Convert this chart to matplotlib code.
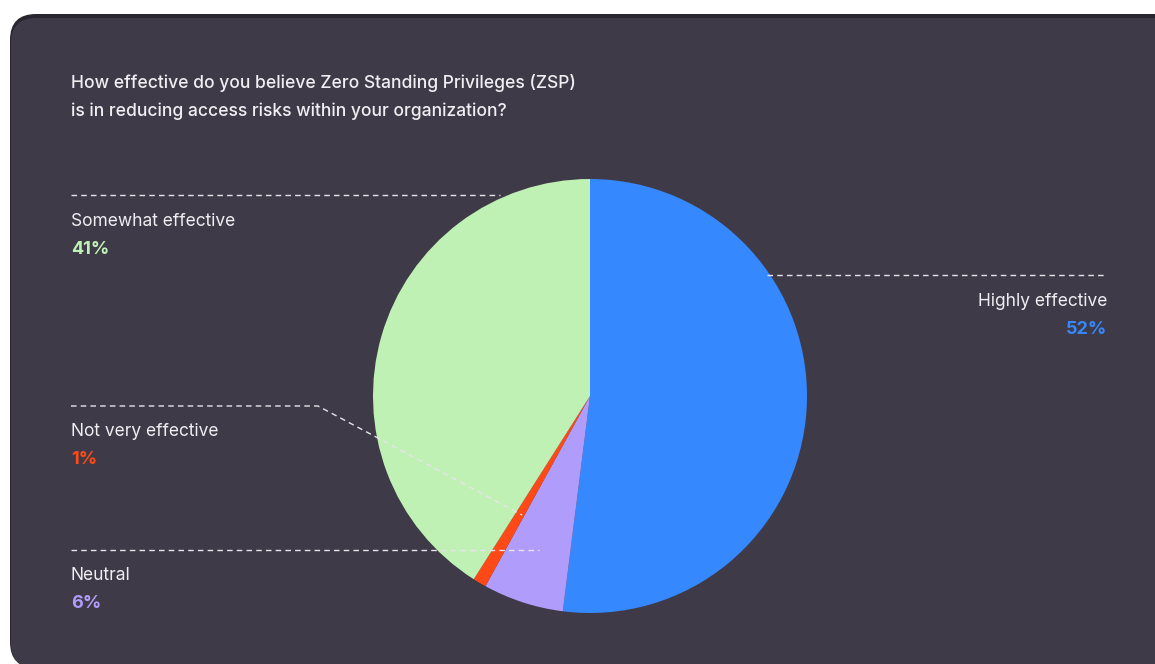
import matplotlib.pyplot as plt
from matplotlib.patches import FancyBboxPatch

# survey answers, clockwise from 12 o'clock
answers = ['Highly effective', 'Neutral', 'Not very effective', 'Somewhat effective']
shares = [52, 6, 1, 41]
colors = ['#3588fd', '#b09cfb', '#ff4a17', '#bff0b4']

title = ('How effective do you believe Zero Standing Privileges (ZSP)\n'
         'is in reducing access risks within your organization?')

W, H = 1155, 664
BG = '#3e3a48'
TXT = '#f0eef2'

plt.rcParams['font.family'] = ['Inter', 'DejaVu Sans']

fig = plt.figure(figsize=(W / 100, H / 100), dpi=100)
fig.patch.set_facecolor('white')
ax = fig.add_axes([0, 0, 1, 1])


def Y(y):
    # pixel row (from top) -> data y
    return H - y


# card with a darker rim along the top
ax.add_patch(FancyBboxPatch((10, Y(668)), 1200, 654, boxstyle='round,pad=0,rounding_size=26',
                            fc='#2a2630', ec='none', zorder=0))
ax.add_patch(FancyBboxPatch((11, Y(668)), 1200, 650, boxstyle='round,pad=0,rounding_size=25',
                            fc=BG, ec='none', zorder=0))

ax.text(71, Y(97), title, color=TXT, fontsize=12.6, fontweight='medium',
        va='center', ha='left', linespacing=1.72)

cx, cy, r = 590, 396, 217
ax.pie(shares, colors=colors, startangle=90, counterclock=False,
       center=(cx, Y(cy)), radius=r, wedgeprops=dict(linewidth=0), frame=True)
ax.set_xlim(0, W)
ax.set_ylim(0, H)
ax.set_aspect('equal')
ax.axis('off')

dash = dict(color='#e6e4ea', lw=1, ls=(0, (4, 3)), zorder=5)

# leader lines
ax.plot([71, 500], [Y(195), Y(195)], **dash)
ax.plot([767, 1107], [Y(275), Y(275)], **dash)
ax.plot([71, 318, 522], [Y(406), Y(406), Y(515)], **dash)
ax.plot([71, 539], [Y(550), Y(550)], **dash)

label_pos = {
    'Somewhat effective': (71, 222, 'left'),
    'Highly effective': (1107, 301, 'right'),
    'Not very effective': (71, 432, 'left'),
    'Neutral': (71, 576, 'left'),
}
for name, share, col in zip(answers, shares, colors):
    x, y, ha = label_pos[name]
    ax.text(x, Y(y), name, color=TXT, fontsize=12.5, ha=ha, va='center')
    ax.text(x, Y(y + 28), f'{share}%', color=col, fontsize=13, fontweight='bold',
            ha=ha, va='center')

fig.savefig('out.png', dpi=100, facecolor=fig.get_facecolor())
